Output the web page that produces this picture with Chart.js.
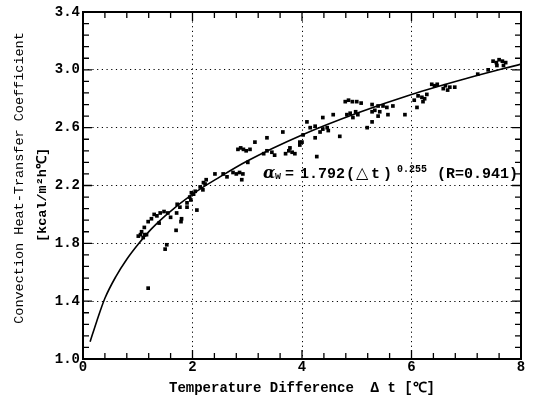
<!DOCTYPE html>
<html>
<head>
<meta charset="utf-8">
<script src="https://cdn.jsdelivr.net/npm/chart.js@4/dist/chart.umd.min.js"></script>
<style>
  html,body{margin:0;padding:0;background:#fff;}
  #wrap{width:534px;height:401px;}
</style>
</head>
<body>
<div id="wrap"><canvas id="c" width="534" height="401"></canvas></div>
<script>
// ---- measured data (Δt [℃], α [kcal/m²h℃]) ----
const measX = [1.01,1.05,1.07,1.10,1.12,1.13,1.16,1.19,1.19,1.25,
  1.50,1.53,1.30,1.35,1.39,1.41,1.48,1.55,1.60,1.70,
  1.71,1.72,1.77,1.79,1.80,1.90,1.90,1.95,1.97,1.98,
  2.02,2.05,2.08,2.14,2.19,2.20,2.23,2.25,
  2.41,2.56,2.63,2.74,2.80,2.86,2.90,2.92,3.01,2.83,
  2.88,2.93,2.98,3.05,3.14,3.36,3.30,3.36,3.45,3.50,
  3.65,3.70,3.76,3.82,3.87,3.78,3.96,3.96,4.02,4.09,
  4.00,4.15,4.24,4.24,4.27,4.33,4.38,4.38,4.48,4.46,
  4.57,4.69,4.79,4.85,4.92,5.00,5.08,4.82,4.88,4.93,
  4.98,5.02,5.19,5.28,5.28,5.33,5.42,5.28,5.39,5.48,
  5.55,5.39,5.57,5.66,5.88,6.10,6.05,6.12,6.19,6.24,
  6.28,6.21,6.37,6.42,6.47,6.58,6.62,6.66,6.70,6.79,
  7.21,7.40,7.49,7.55,7.60,7.66,7.72,7.56,7.68];
const measY = [1.85,1.86,1.88,1.84,1.91,1.86,1.86,1.95,1.49,1.97,
  1.76,1.79,2.00,1.99,1.94,2.01,2.02,2.01,1.98,1.89,
  2.01,2.07,2.05,1.95,1.97,2.05,2.08,2.12,2.10,2.15,
  2.14,2.16,2.03,2.19,2.17,2.22,2.21,2.24,
  2.28,2.28,2.26,2.29,2.28,2.29,2.24,2.28,2.36,2.45,
  2.46,2.45,2.44,2.45,2.50,2.53,2.42,2.44,2.43,2.41,
  2.57,2.42,2.44,2.43,2.42,2.46,2.50,2.48,2.55,2.64,
  2.50,2.60,2.61,2.53,2.40,2.57,2.59,2.67,2.58,2.60,
  2.69,2.54,2.78,2.79,2.78,2.78,2.77,2.69,2.70,2.67,
  2.71,2.69,2.60,2.64,2.71,2.72,2.71,2.76,2.75,2.75,
  2.74,2.68,2.69,2.75,2.69,2.74,2.79,2.82,2.81,2.80,
  2.83,2.78,2.90,2.89,2.90,2.87,2.89,2.86,2.88,2.88,
  2.97,3.00,3.06,3.05,3.07,3.06,3.05,3.03,3.03];

// ---- regression curve ----
const curveX = [0.13,0.25,0.4,0.6,0.8,1.0,1.25,1.5,2.0,2.5,3.0,4.0,5.0,6.0,7.0,8.0];
const curveY = [1.12,1.26,1.42,1.57,1.69,1.79,1.90,1.99,2.14,2.26,2.37,2.55,2.70,2.83,2.94,3.04];

// ---- axes ----
const xMin = 0, xMax = 8, xMajor = 2, xMinor = 0.4;
const yMin = 1.0, yMax = 3.4, yMajor = 0.4, yMinor = 0.08;

const xTitle = 'Temperature Difference  Δ t [℃]';
const yTitle1 = 'Convection Heat-Transfer Coefficient';
const yTitle2 = '[kcal/m²h℃]';

const MONO = '"Liberation Mono", "DejaVu Sans Mono", monospace';

const decor = {
  id: 'decor',
  afterDraw(chart) {
    const {ctx, chartArea: a, scales: {x, y}} = chart;
    ctx.save();
    ctx.strokeStyle = '#000';
    ctx.fillStyle = '#000';
    // inward ticks on all sides
    ctx.lineWidth = 1.3;
    const nx = Math.round((xMax - xMin) / xMinor);
    for (let i = 0; i <= nx; i++) {
      const px = x.getPixelForValue(xMin + i * xMinor);
      const L = (i % Math.round(xMajor / xMinor) === 0) ? 9 : 6;
      ctx.beginPath();
      ctx.moveTo(px, a.bottom); ctx.lineTo(px, a.bottom - L);
      ctx.moveTo(px, a.top); ctx.lineTo(px, a.top + L);
      ctx.stroke();
    }
    const ny = Math.round((yMax - yMin) / yMinor);
    for (let i = 0; i <= ny; i++) {
      const py = y.getPixelForValue(yMin + i * yMinor);
      const L = (i % Math.round(yMajor / yMinor) === 0) ? 9 : 6;
      ctx.beginPath();
      ctx.moveTo(a.left, py); ctx.lineTo(a.left + L, py);
      ctx.moveTo(a.right, py); ctx.lineTo(a.right - L, py);
      ctx.stroke();
    }
    // frame
    ctx.lineWidth = 2;
    ctx.strokeRect(a.left, a.top, a.right - a.left, a.bottom - a.top);

    // y-axis titles (rotated)
    ctx.textAlign = 'center';
    ctx.textBaseline = 'middle';
    ctx.save();
    ctx.translate(19, 178);
    ctx.rotate(-Math.PI / 2);
    ctx.font = '13.5px ' + MONO;
    ctx.fillText(yTitle1, 0, 0);
    ctx.restore();
    ctx.save();
    ctx.translate(43, 195);
    ctx.rotate(-Math.PI / 2);
    ctx.font = 'bold 13.5px ' + MONO;
    ctx.fillText(yTitle2, 0, 0);
    ctx.restore();

    // regression equation
    ctx.textAlign = 'left';
    ctx.textBaseline = 'alphabetic';
    const base = 178;
    ctx.font = 'italic bold 16px "DejaVu Serif", serif';
    ctx.fillText('α', 263, base);
    ctx.font = 'bold 10px ' + MONO;
    ctx.fillText('w', 275, base + 1);
    ctx.font = 'bold 15px ' + MONO;
    ctx.fillText('=', 285, base);
    ctx.fillText('1.792', 300, base);
    ctx.fillText('(', 346, base);
    ctx.font = '16px "DejaVu Sans", sans-serif';
    ctx.fillText('△', 356, base);
    ctx.font = 'bold 15px ' + MONO;
    ctx.fillText('t', 371, base);
    ctx.fillText(')', 383, base);
    ctx.font = 'bold 10px ' + MONO;
    ctx.fillText('0.255', 397, base - 6);
    ctx.font = 'bold 15px ' + MONO;
    ctx.fillText('(R=0.941)', 437, base);
    ctx.restore();
  }
};

new Chart(document.getElementById('c'), {
  data: {
    datasets: [
      {
        type: 'scatter',
        data: measX.map((v, i) => ({x: v, y: measY[i]})),
        pointStyle: 'rect',
        pointRadius: 2.6,
        backgroundColor: '#000',
        borderColor: '#000',
        borderWidth: 0
      },
      {
        type: 'line',
        data: curveX.map((v, i) => ({x: v, y: curveY[i]})),
        borderColor: '#000',
        borderWidth: 1.6,
        pointRadius: 0,
        fill: false,
        cubicInterpolationMode: 'monotone'
      }
    ]
  },
  options: {
    responsive: false,
    animation: false,
    devicePixelRatio: 1,
    layout: {padding: {top: 12, right: 13, left: 0, bottom: 0}},
    plugins: {legend: {display: false}, tooltip: {enabled: false}},
    scales: {
      x: {
        type: 'linear',
        min: xMin, max: xMax,
        afterFit: s => { s.height = 42; },
        ticks: {stepSize: xMajor, padding: 0, color: '#000',
          font: {family: MONO, size: 14, weight: 'bold'}, maxRotation: 0},
        grid: {color: '#000', lineWidth: 1, drawTicks: false},
        border: {display: false, dash: [1.2, 3.5]},
        title: {display: true, text: xTitle, color: '#000',
          font: {family: MONO, size: 14, weight: 'bold', lineHeight: 1.2},
          padding: {top: 0, bottom: 4}}
      },
      y: {
        type: 'linear',
        min: yMin, max: yMax,
        afterFit: s => { s.width = 83; },
        ticks: {stepSize: yMajor, padding: 3, color: '#000',
          font: {family: MONO, size: 14, weight: 'bold'},
          callback: v => Number(v).toFixed(1)},
        grid: {color: '#000', lineWidth: 1, drawTicks: false},
        border: {display: false, dash: [1.2, 3.5]}
      }
    }
  },
  plugins: [decor]
});
</script>
</body>
</html>
